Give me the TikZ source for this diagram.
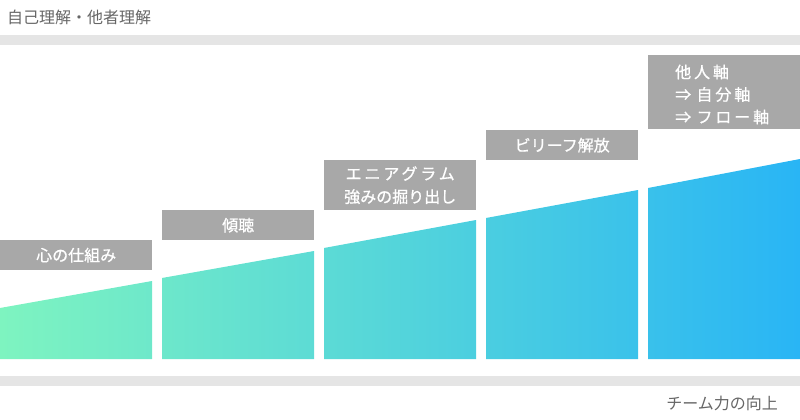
\documentclass[tikz,border=0pt]{standalone}
\usepackage{fontspec}
\setmainfont{Noto Sans CJK JP}
\newfontfamily\tagfont{Noto Sans CJK JP}[FakeBold=0.8]
\usepackage{tikz}

\definecolor{mintL}{HTML}{7EF4C0}
\definecolor{skyR}{HTML}{29B5F5}
\definecolor{barGray}{HTML}{E5E5E5}
\definecolor{tagGray}{HTML}{A8A8A8}
\definecolor{textGray}{HTML}{666666}

\tikzset{
    tag/.style={fill=tagGray, text=white, anchor=north west, inner sep=0pt,
        minimum width=152pt, font=\tagfont\fontsize{16}{23}\selectfont, align=center},
    axislabel/.style={text=textGray, inner sep=0pt, font=\fontsize{16}{18}\selectfont}
}

\begin{document}
\begin{tikzpicture}[x=1pt, y=-1pt]
    \useasboundingbox (0,0) rectangle (800,420);

    % grey bars
    \fill[barGray] (0,35) rectangle (800,45);
    \fill[barGray] (0,376) rectangle (800,386);

    % axis labels
    \node[axislabel, anchor=west] (top) at (7,17) {自己理解・他者理解};
    \node[axislabel, anchor=east] (bottom) at (778,403) {チーム力の向上};

    % steps, one gradient over all of them
    \begin{scope}
        \clip \foreach \xa/\ya/\yb in {0/308/281, 162/278/251, 324/248/220, 486/218/190, 648/188/159}
            {(\xa,\ya) -- (\xa+152,\yb) -- (\xa+152,359) -- (\xa,359) -- cycle};
        \shade[left color=mintL, right color=skyR] (0,150) rectangle (800,360);
    \end{scope}

    % tags
    \node[tag, minimum height=30pt] (heart) at (0,240) {心の仕組み};
    \node[tag, minimum height=30pt] (listen) at (162,210) {傾聴};
    \node[tag, minimum height=50pt] (ennea) at (324,160)
        {{\addfontfeature{LetterSpace=18}エニアグラム}\\強みの掘り出し};
    \node[tag, minimum height=30pt] (belief) at (486,130) {ビリーフ解放};
    \node[tag, minimum height=74pt, text width=98pt, inner xsep=27pt, align=left,
        font=\tagfont\addfontfeature{LetterSpace=18}\fontsize{16}{22.5}\selectfont] (axis) at (648,55)
        {\rule{0pt}{18pt}他人軸\\⇒ 自分軸\\⇒ フロー軸};
\end{tikzpicture}
\end{document}
